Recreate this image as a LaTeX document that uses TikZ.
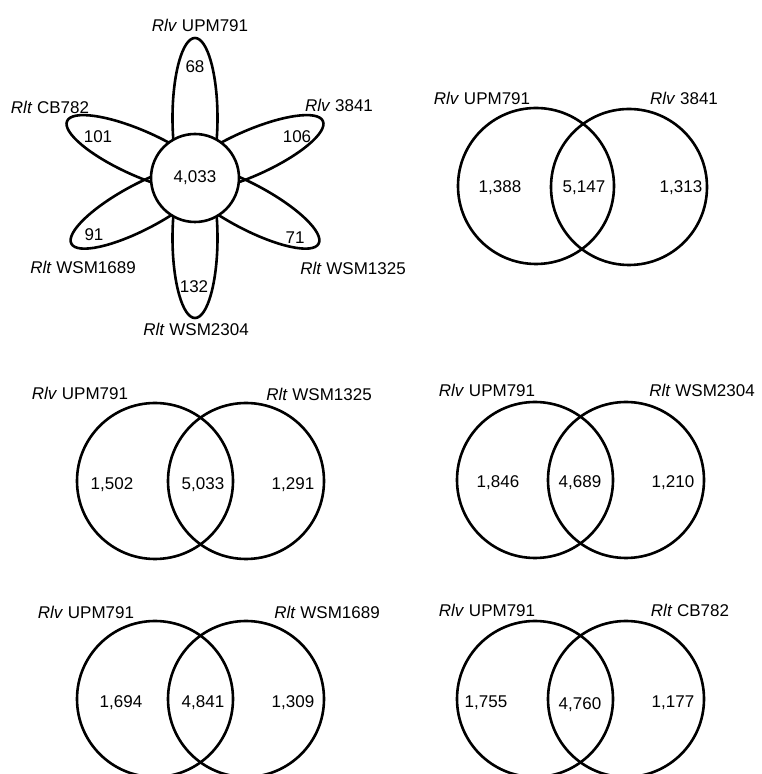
\documentclass[tikz,border=0pt]{standalone}
\usepackage{fontspec}
\setmainfont{Liberation Sans}
\usetikzlibrary{shapes.geometric}
\tikzset{
  ring/.style={circle, draw=black, line width=2.6pt, minimum size=156pt, inner sep=0pt},
  core/.style={circle, draw=black, fill=white, line width=2.6pt, minimum size=88pt, inner sep=0pt},
  petal/.style={draw=black, line width=2.6pt},
  lbl/.style={inner sep=0pt, font=\fontsize{17}{20}\selectfont},
  num/.style={inner sep=0pt, font=\fontsize{17}{20}\selectfont}
}
\begin{document}
\begin{tikzpicture}[x=1pt,y=1pt]
\useasboundingbox (0,0) rectangle (761,774);
\clip (0,0) rectangle (761,774);
% ---------- flower ----------
\coordinate (fc) at (195,596);
\foreach \ang in {90,24,156,-28,208,-90}{
  \begin{scope}[shift={(fc)}, rotate=\ang]
    \draw[petal] (60,0) ellipse [x radius=80, y radius=22.5];
  \end{scope}
}
\node[core] (core) at (fc) {};
\node[num] (ncore) at (195,596) {4,033};
\node[num] (n68) at (195,707) {68};
\node[num] (n101) at (98,637) {101};
\node[num] (n106) at (297,637) {106};
\node[num] (n91) at (94,539) {91};
\node[num] (n71) at (295,536) {71};
\node[num] (n132) at (194,487) {132};
\node[lbl] (fl1) at (200,749) {\textit{Rlv} UPM791};
\node[lbl] (fl2) at (339,669) {\textit{Rlv} 3841};
\node[lbl] (fl3) at (50,667) {\textit{Rlt} CB782};
\node[lbl] (fl4) at (83,507) {\textit{Rlt} WSM1689};
\node[lbl] (fl5) at (353,506) {\textit{Rlt} WSM1325};
\node[lbl] (fl6) at (196,445) {\textit{Rlt} WSM2304};
% ---------- Venn row 1 ----------
\node[ring] (a1) at (536,588) {};
\node[ring] (b1) at (629,587) {};
\node[lbl] (la1) at (482,676) {\textit{Rlv} UPM791};
\node[lbl] (lb1) at (684,676) {\textit{Rlv} 3841};
\node[num] (na1) at (500,586) {1,388};
\node[num] (nab1) at (584,586) {5,147};
\node[num] (nb1) at (681,586) {1,313};
% ---------- Venn row 2 left ----------
\node[ring] (a2) at (155,293) {};
\node[ring] (b2) at (246,293) {};
\node[lbl] (la2) at (80,381) {\textit{Rlv} UPM791};
\node[lbl] (lb2) at (319,380) {\textit{Rlt} WSM1325};
\node[num] (na2) at (112,289) {1,502};
\node[num] (nab2) at (203,289) {5,033};
\node[num] (nb2) at (293,289) {1,291};
% ---------- Venn row 2 right ----------
\node[ring] (a3) at (535,294) {};
\node[ring] (b3) at (626,294) {};
\node[lbl] (la3) at (487,384) {\textit{Rlv} UPM791};
\node[lbl] (lb3) at (702,384) {\textit{Rlt} WSM2304};
\node[num] (na3) at (498,291) {1,846};
\node[num] (nab3) at (580,291) {4,689};
\node[num] (nb3) at (673,291) {1,210};
% ---------- Venn row 3 left ----------
\node[ring] (a4) at (155,75) {};
\node[ring] (b4) at (246,75) {};
\node[lbl] (la4) at (86,162) {\textit{Rlv} UPM791};
\node[lbl] (lb4) at (327,162) {\textit{Rlt} WSM1689};
\node[num] (na4) at (121,71) {1,694};
\node[num] (nab4) at (203,71) {4,841};
\node[num] (nb4) at (293,71) {1,309};
% ---------- Venn row 3 right ----------
\node[ring] (a5) at (535,75) {};
\node[ring] (b5) at (626,75) {};
\node[lbl] (la5) at (487,164) {\textit{Rlv} UPM791};
\node[lbl] (lb5) at (690,164) {\textit{Rlt} CB782};
\node[num] (na5) at (486,71) {1,755};
\node[num] (nab5) at (580,69) {4,760};
\node[num] (nb5) at (673,71) {1,177};
\end{tikzpicture}
\end{document}
